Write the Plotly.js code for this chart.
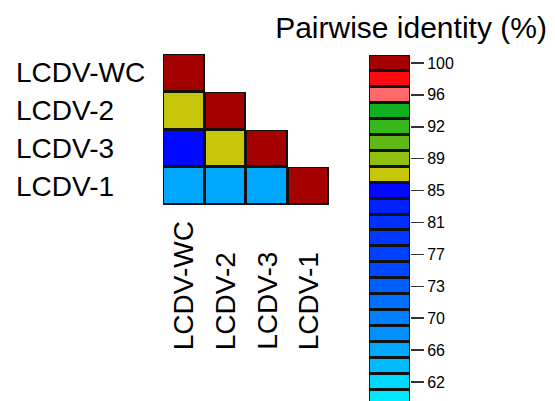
<!DOCTYPE html>
<html>
<head>
<meta charset="utf-8">
<script src="https://cdn.plot.ly/plotly-3.0.1.min.js"></script>
<style>
  html, body { margin: 0; padding: 0; background: #fff; }
  #chart { width: 555px; height: 401px; }
</style>
</head>
<body>
<div id="chart"></div>
<script>
// ---- data ----
const isolates = ['LCDV-WC', 'LCDV-2', 'LCDV-3', 'LCDV-1'];
// lower-triangular pairwise identity (%), rows in the order of isolates
const rowWC = [100, null, null, null];
const row2  = [87, 100, null, null];
const row3  = [85, 87, 100, null];
const row1  = [66, 66, 66, 100];
// colour key bins (centres, top to bottom) and their colours
const binCenters = [100, 98.1, 96.2, 94.3, 92.4, 90.5, 88.6, 86.7, 84.8, 82.9, 81.0,
                    79.1, 77.2, 75.3, 73.4, 71.5, 69.6, 67.7, 65.8, 63.9, 62.0, 60.1];
const binColors = ['#A50000', '#FF0A10', '#FF6B6B', '#10B020', '#36B81A', '#60B818',
                   '#90C010', '#C8C60A', '#0008FF', '#0020FF', '#0030FF', '#0038FF',
                   '#0040FF', '#0048FF', '#0060FF', '#0070FF', '#0080FF', '#0090FF',
                   '#00A8FF', '#00BCFF', '#00D8FF', '#00E8FF'];
const tickValues = [100, 96.2, 92.4, 88.6, 84.8, 81.0, 77.2, 73.4, 69.6, 65.8, 62.0];
const tickLabels = ['100', '96', '92', '89', '85', '81', '77', '73', '70', '66', '62'];
const titleText = 'Pairwise identity (%)';

// ---- build ----
const matrix = [rowWC, row2, row3, row1];
const nBins = binCenters.length;
const step = (binCenters[0] - binCenters[nBins - 1]) / (nBins - 1);
const zmax = binCenters[0] + step / 2;
const zmin = binCenters[nBins - 1] - step / 2;
// stepwise colour scale: bin k (ascending) spans [k/n, (k+1)/n]
const colorscale = [];
for (let k = 0; k < nBins; k++) {
  const col = binColors[nBins - 1 - k];
  const lo = Math.round((k / nBins) * 1e6) / 1e6;
  const hi = Math.round(((k + 1) / nBins) * 1e6) / 1e6;
  colorscale.push([lo, col]);
  colorscale.push([hi, col]);
}

const black = [[0, '#111'], [1, '#111']];
const FONT = 'Liberation Sans, Arial, Helvetica, sans-serif';

const traces = [
  { type: 'heatmap', x: isolates, y: isolates,
    z: matrix.map(r => r.map(v => v === null ? null : 0)),
    colorscale: black, showscale: false, hoverinfo: 'skip', xaxis: 'x', yaxis: 'y' },
  { type: 'heatmap', x: isolates, y: isolates, z: matrix,
    colorscale: colorscale, zmin: zmin, zmax: zmax, showscale: false,
    xgap: 3, ygap: 3, hoverinfo: 'skip', xaxis: 'x', yaxis: 'y' },
  { type: 'heatmap', x: [0], y: binCenters, z: binCenters.map(() => [0]),
    colorscale: black, showscale: false, hoverinfo: 'skip', xaxis: 'x2', yaxis: 'y2' },
  { type: 'heatmap', x: [0], y: binCenters, z: binCenters.map(v => [v]),
    colorscale: colorscale, zmin: zmin, zmax: zmax, showscale: false,
    xgap: 2, ygap: 3, hoverinfo: 'skip', xaxis: 'x2', yaxis: 'y2' }
];

const W = 555, H = 401;
const px = x => x / W;
const py = y => 1 - y / H;

const annotations = [];
isolates.forEach(name => {
  annotations.push({ text: name, xref: 'paper', x: px(14), xanchor: 'left',
    yref: 'y', y: name, yanchor: 'middle', showarrow: false,
    font: { family: FONT, size: 28, color: '#000' } });
  annotations.push({ text: name, xref: 'x', x: name, xanchor: 'center',
    yref: 'paper', y: py(352), yanchor: 'bottom', textangle: -90, showarrow: false,
    font: { family: FONT, size: 28, color: '#000' } });
});

const layout = {
  width: W, height: H,
  margin: { l: 0, r: 0, t: 0, b: 0, pad: 0 },
  paper_bgcolor: '#fff', plot_bgcolor: '#fff',
  showlegend: false,
  font: { family: FONT, color: '#000' },
  title: { text: titleText, font: { family: FONT, size: 30, color: '#000' },
           xref: 'paper', x: px(411), xanchor: 'center',
           yref: 'paper', y: py(27), yanchor: 'middle' },
  xaxis: { domain: [px(163), px(329)], anchor: 'y', type: 'category',
           range: [-0.5, 3.5], showticklabels: false, showgrid: false,
           zeroline: false, showline: false, ticks: '', fixedrange: true },
  yaxis: { domain: [py(205), py(54)], anchor: 'x', type: 'category',
           range: [3.5, -0.5], showticklabels: false, showgrid: false,
           zeroline: false, showline: false, ticks: '', fixedrange: true },
  xaxis2: { domain: [px(369), px(410)], anchor: 'y2', visible: false,
            range: [-0.5, 0.5], fixedrange: true },
  yaxis2: { domain: [0, py(55)], anchor: 'x2', side: 'right',
            range: [zmin + 0.59, zmax], showgrid: false, zeroline: false,
            showline: false, ticks: 'outside', ticklen: 13, tickwidth: 1.5,
            tickcolor: '#333', tickvals: tickValues, ticktext: tickLabels,
            tickfont: { family: FONT, size: 16, color: '#000' }, fixedrange: true },
  annotations: annotations
};

Plotly.newPlot('chart', traces, layout, { displayModeBar: false, staticPlot: true });
</script>
</body>
</html>
